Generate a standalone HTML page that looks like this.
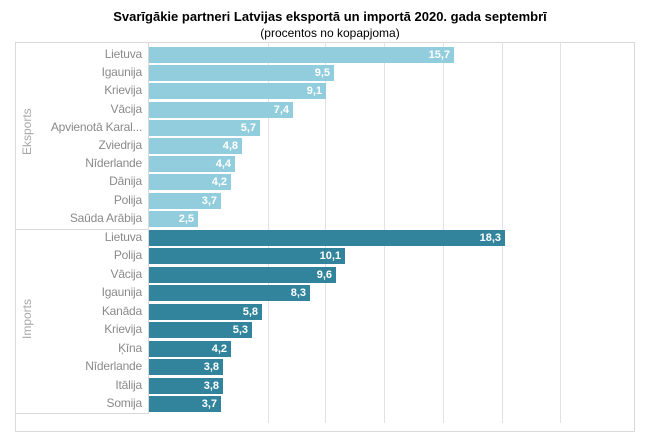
<!DOCTYPE html><html><head><style>
body{margin:0;width:660px;height:423px;background:#fff;overflow:hidden;font-family:"Liberation Sans",sans-serif;position:relative}
.t{position:absolute;left:0;width:660px;text-align:center;color:#000}
.g{position:absolute;top:42px;height:381px;width:1px;background:#e2e2e2}
.lab{position:absolute;right:518px;font-size:12px;color:#8a8a8a;white-space:nowrap;line-height:15px;letter-spacing:-0.2px}
.bar{position:absolute;left:149px;height:16px;color:#fff;font-weight:bold;font-size:11px;text-align:right;line-height:16px;box-sizing:border-box;padding-right:4px}
.e{background:#92cddd}.i{background:#31849b}
.grp{position:absolute;font-size:12px;color:#a8a8a8;transform:rotate(-90deg);transform-origin:center}
</style></head><body>
<div class="t" style="top:9px;font-size:13px;font-weight:bold">Svarīgākie partneri Latvijas eksportā un importā 2020. gada septembrī</div>
<div class="t" style="top:26px;font-size:12px">(procentos no kopapjoma)</div>
<div style="position:absolute;left:15px;top:42px;width:620px;height:390px;border:1px solid #d9d9d9;box-sizing:border-box"></div>
<div style="position:absolute;left:15px;top:42px;width:134px;height:372px;border:1px solid #d9d9d9;border-top:none;box-sizing:border-box"></div>
<div style="position:absolute;left:15px;top:229px;width:134px;height:1px;background:#d9d9d9"></div>
<div class="g" style="left:268px"></div><div class="g" style="left:325px"></div><div class="g" style="left:384px"></div><div class="g" style="left:443px"></div><div class="g" style="left:502px"></div><div class="g" style="left:560px"></div>
<div class="grp" style="left:7px;top:128px;width:40px;text-align:center">Eksports</div>
<div class="grp" style="left:7px;top:312px;width:40px;text-align:center">Imports</div>
<div id="c"></div>
<script>
var ex=[["Lietuva",15.7],["Igaunija",9.5],["Krievija",9.1],["Vācija",7.4],["Apvienotā Karal...",5.7],["Zviedrija",4.8],["Nīderlande",4.4],["Dānija",4.2],["Polija",3.7],["Saūda Arābija",2.5]];
var im=[["Lietuva",18.3],["Polija",10.1],["Vācija",9.6],["Igaunija",8.3],["Kanāda",5.8],["Krievija",5.3],["Ķīna",4.2],["Nīderlande",3.8],["Itālija",3.8],["Somija",3.7]];
var h="";
function add(a,y0,sp,c){a.forEach(function(d,k){var y=y0+k*sp;h+='<div class="lab" style="top:'+(y-8)+'px">'+d[0]+'</div><div class="bar '+c+'" style="top:'+(y-8)+'px;width:'+Math.round(d[1]*19.45)+'px">'+d[1].toFixed(1).replace(".",",")+'</div>';});}
add(ex,55,18.2,"e");add(im,238,18.45,"i");
document.getElementById("c").innerHTML=h;
</script>
</body></html>
